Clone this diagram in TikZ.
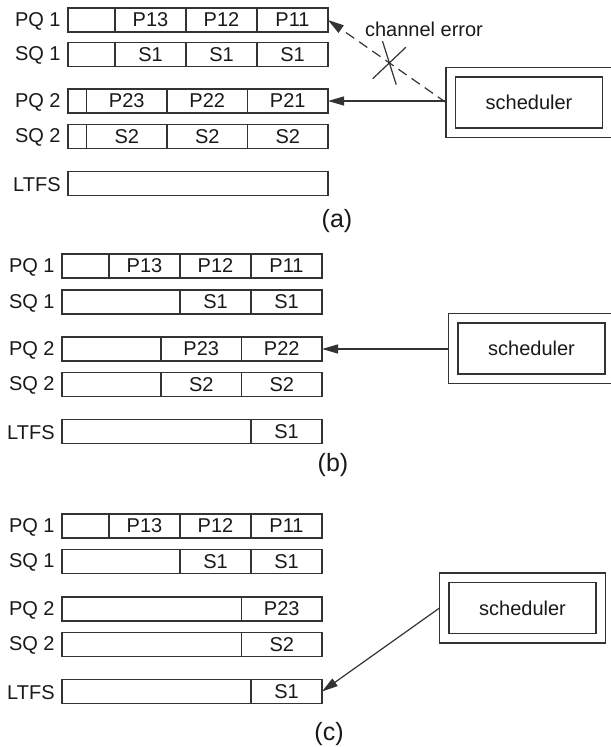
\documentclass[tikz,border=0pt]{standalone}
\usepackage{fontspec}
\setmainfont{Liberation Sans}
\usetikzlibrary{positioning, fit, arrows.meta, shapes.misc}
\tikzset{
  queue/.style={rectangle, draw, line width=0.6pt, minimum width=130pt,
    minimum height=12pt, inner sep=0pt, outer sep=0pt, anchor=west},
  slot/.style={rectangle, draw, line width=0.6pt, minimum width=35.5pt,
    minimum height=12pt, inner sep=0pt, outer sep=0pt},
  wideslot/.style={slot, minimum width=40.25pt},
  qname/.style={inner sep=0pt, left=3.5pt of #1, yshift=-0.5pt},
  sched/.style={rectangle, draw, line width=0.6pt, minimum width=73.5pt,
    minimum height=25.5pt, outer sep=0pt},
  frame/.style={rectangle, draw, line width=0.6pt, inner sep=4.75pt, outer sep=0pt},
  feed/.style={draw, line width=0.6pt, -{Triangle[length=8pt,width=4.5pt]}},
  lost/.style={solid, cross out, draw, line width=0.6pt, inner sep=0pt,
    minimum width=11.5pt, minimum height=18.75pt, rotate=-14.5},
  caption/.style={font=\fontsize{12.5}{15}\selectfont},
}

\begin{document}
\begin{tikzpicture}[x=0.5pt, y=-0.5pt, draw=black!80, text=black!90]
    \useasboundingbox (0,0) rectangle (610,747);

    % (a)
    \node (pq1a) [queue] at (68,20) {};
    \node (sq1a) [queue] at (68,54.5) {};
    \node (pq2a) [queue] at (68,101) {};
    \node (sq2a) [queue] at (68,136.5) {};
    \node (ltfsa) [queue] at (68,183.5) {};
    \node (pq1a-t) [qname=pq1a] {PQ 1};
    \node (sq1a-t) [qname=sq1a] {SQ 1};
    \node (pq2a-t) [qname=pq2a] {PQ 2};
    \node (sq2a-t) [qname=sq2a] {SQ 2};
    \node (ltfsa-t) [qname=ltfsa] {LTFS};

    \node (p11a) [slot, left=0pt of pq1a.east] {P11};
    \node (p12a) [slot, left=0pt of p11a] {P12};
    \node (p13a) [slot, left=0pt of p12a] {P13};
    \node (s11a) [slot, left=0pt of sq1a.east] {S1};
    \node (s12a) [slot, left=0pt of s11a] {S1};
    \node (s13a) [slot, left=0pt of s12a] {S1};
    \node (p21a) [wideslot, left=0pt of pq2a.east] {P21};
    \node (p22a) [wideslot, left=0pt of p21a] {P22};
    \node (p23a) [wideslot, left=0pt of p22a] {P23};
    \node (s21a) [wideslot, left=0pt of sq2a.east] {S2};
    \node (s22a) [wideslot, left=0pt of s21a] {S2};
    \node (s23a) [wideslot, left=0pt of s22a] {S2};

    \node (sched-a) [sched] at (529,102.5) {scheduler};
    \node (frame-a) [frame, fit=(sched-a)] {};
    \draw [feed] (frame-a.west |- pq2a) -- (pq2a.east);
    \draw [feed, dash pattern=on 5pt off 3pt] (frame-a.west) -- (pq1a.east)
        node (err) [lost, pos=0.48] {};
    \node (err-t) at (424,29) {channel error};
    \node (cap-a) [caption] at (337,221) {(a)};

    % (b)
    \node (pq1b) [queue] at (62,266) {};
    \node (sq1b) [queue] at (62,302) {};
    \node (pq2b) [queue] at (62,349) {};
    \node (sq2b) [queue] at (62,384.5) {};
    \node (ltfsb) [queue] at (62,431.5) {};
    \node (pq1b-t) [qname=pq1b] {PQ 1};
    \node (sq1b-t) [qname=sq1b] {SQ 1};
    \node (pq2b-t) [qname=pq2b] {PQ 2};
    \node (sq2b-t) [qname=sq2b] {SQ 2};
    \node (ltfsb-t) [qname=ltfsb] {LTFS};

    \node (p11b) [slot, left=0pt of pq1b.east] {P11};
    \node (p12b) [slot, left=0pt of p11b] {P12};
    \node (p13b) [slot, left=0pt of p12b] {P13};
    \node (s11b) [slot, left=0pt of sq1b.east] {S1};
    \node (s12b) [slot, left=0pt of s11b] {S1};
    \node (p22b) [wideslot, left=0pt of pq2b.east] {P22};
    \node (p23b) [wideslot, left=0pt of p22b] {P23};
    \node (s21b) [wideslot, left=0pt of sq2b.east] {S2};
    \node (s22b) [wideslot, left=0pt of s21b] {S2};
    \node (l1b) [slot, left=0pt of ltfsb.east] {S1};

    \node (sched-b) [sched] at (531.5,348.5) {scheduler};
    \node (frame-b) [frame, fit=(sched-b)] {};
    \draw [feed] (frame-b.west |- pq2b) -- (pq2b.east);
    \node (cap-b) [caption] at (333,465) {(b)};

    % (c)
    \node (pq1c) [queue] at (62,526) {};
    \node (sq1c) [queue] at (62,561.5) {};
    \node (pq2c) [queue] at (62,609) {};
    \node (sq2c) [queue] at (62,644.5) {};
    \node (ltfsc) [queue] at (62,691.5) {};
    \node (pq1c-t) [qname=pq1c] {PQ 1};
    \node (sq1c-t) [qname=sq1c] {SQ 1};
    \node (pq2c-t) [qname=pq2c] {PQ 2};
    \node (sq2c-t) [qname=sq2c] {SQ 2};
    \node (ltfsc-t) [qname=ltfsc] {LTFS};

    \node (p11c) [slot, left=0pt of pq1c.east] {P11};
    \node (p12c) [slot, left=0pt of p11c] {P12};
    \node (p13c) [slot, left=0pt of p12c] {P13};
    \node (s11c) [slot, left=0pt of sq1c.east] {S1};
    \node (s12c) [slot, left=0pt of s11c] {S1};
    \node (p23c) [wideslot, left=0pt of pq2c.east] {P23};
    \node (s21c) [wideslot, left=0pt of sq2c.east] {S2};
    \node (l1c) [slot, left=0pt of ltfsc.east] {S1};

    \node (sched-c) [sched] at (522.5,608) {scheduler};
    \node (frame-c) [frame, fit=(sched-c)] {};
    \draw [feed] (frame-c.west) -- (ltfsc.east);
    \node (cap-c) [caption] at (329,734) {(c)};
\end{tikzpicture}
\end{document}
